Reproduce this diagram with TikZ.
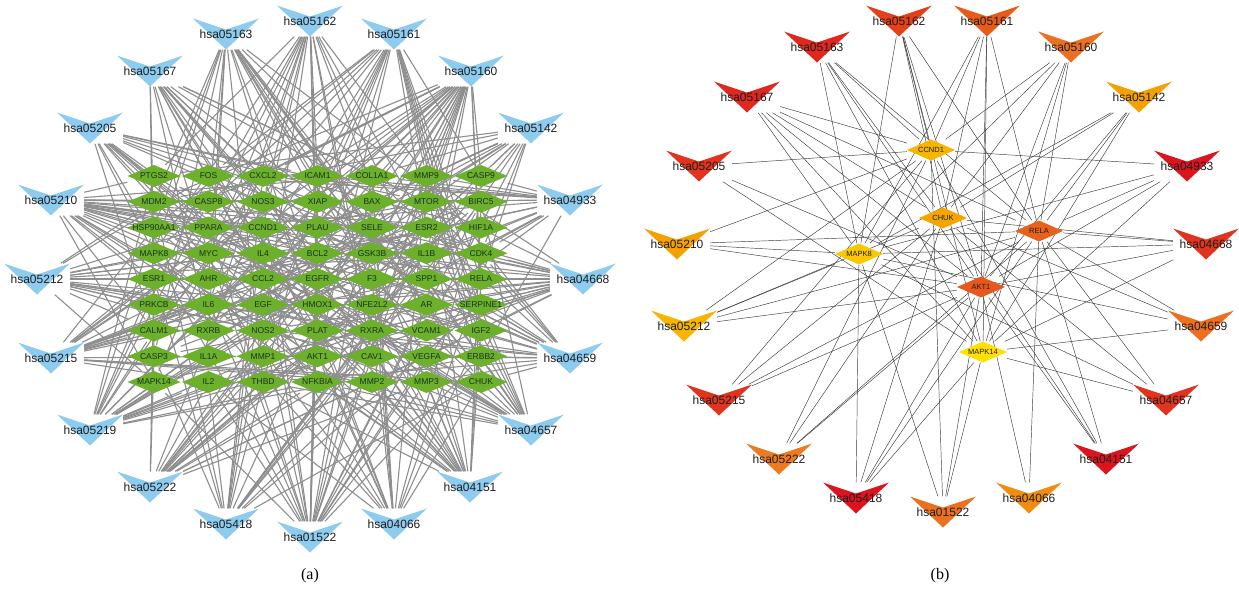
\documentclass[tikz,border=0pt]{standalone}
\usepackage{fontspec}
\setmainfont{Liberation Serif}
\newfontfamily\lsans{Liberation Sans}
\usetikzlibrary{backgrounds}
\definecolor{vblue}{HTML}{8DCBEF}
\definecolor{ggreen}{HTML}{6CB02C}
\definecolor{gtext}{HTML}{17331F}
\definecolor{ltext}{HTML}{1E1E1E}
\definecolor{aedgec}{HTML}{8E8E8E}
\definecolor{bedgec}{HTML}{3A3A3A}
\definecolor{cA}{HTML}{E4401A}
\definecolor{cB}{HTML}{E85A18}
\definecolor{cC}{HTML}{E0281E}
\definecolor{cD}{HTML}{EC7020}
\definecolor{cE}{HTML}{F4A000}
\definecolor{cF}{HTML}{DC1420}
\definecolor{cG}{HTML}{E0341E}
\definecolor{cH}{HTML}{F7B400}
\definecolor{cI}{HTML}{EC7A20}
\definecolor{cJ}{HTML}{F08C10}
\definecolor{gCCND}{HTML}{F7B500}
\definecolor{gCHUK}{HTML}{F5A500}
\definecolor{gRELA}{HTML}{E8621C}
\definecolor{gMAPKa}{HTML}{F9C800}
\definecolor{gAKT}{HTML}{E8581C}
\definecolor{gMAPKb}{HTML}{FFE000}
\tikzset{
  vcol/.store in=\vcol, vcol=vblue,
  vnode/.style={rectangle, inner sep=0pt, minimum width=66pt, minimum height=31pt,
    font=\lsans\fontsize{12}{12}\selectfont, text=ltext,
    path picture={\fill[\vcol] (path picture bounding box.north west) -- ([yshift=-11pt]path picture bounding box.north) -- (path picture bounding box.north east) -- (path picture bounding box.south) -- cycle;}},
  gnode/.style={rectangle, inner sep=0pt, minimum width=53pt, minimum height=22pt,
    font=\lsans\fontsize{8.5}{8.5}\selectfont, text=gtext,
    path picture={\fill[ggreen] (path picture bounding box.west) -- (path picture bounding box.north) -- (path picture bounding box.east) -- (path picture bounding box.south) -- cycle;}},
  bgnode/.style={rectangle, inner sep=0pt, minimum width=48pt, minimum height=21pt,
    font=\lsans\fontsize{7.5}{7.5}\selectfont, text=ltext,
    path picture={\fill[\vcol] (path picture bounding box.west) -- (path picture bounding box.north) -- (path picture bounding box.east) -- (path picture bounding box.south) -- cycle;}},
  aedge/.style={draw=aedgec, line width=1.1pt},
  bedge/.style={draw=bedgec, line width=0.45pt},
  caption/.style={font=\fontsize{16}{18}\selectfont, text=black}
}
\begin{document}
\begin{tikzpicture}[x=1pt,y=-1pt]
\useasboundingbox (0,0) rectangle (1239,590);
% ---------------- panel (a) genes
\foreach \g [count=\k from 0] in {PTGS2,FOS,CXCL2,ICAM1,COL1A1,MMP9,CASP9,
  MDM2,CASP8,NOS3,XIAP,BAX,MTOR,BIRC5,
  HSP90AA1,PPARA,CCND1,PLAU,SELE,ESR2,HIF1A,
  MAPK8,MYC,IL4,BCL2,GSK3B,IL1B,CDK4,
  ESR1,AHR,CCL2,EGFR,F3,SPP1,RELA,
  PRKCB,IL6,EGF,HMOX1,NFE2L2,AR,SERPINE1,
  CALM1,RXRB,NOS2,PLAT,RXRA,VCAM1,IGF2,
  CASP3,IL1A,MMP1,AKT1,CAV1,VEGFA,ERBB2,
  MAPK14,IL2,THBD,NFKBIA,MMP2,MMP3,CHUK}{
  \pgfmathtruncatemacro\cc{mod(\k,7)}
  \pgfmathtruncatemacro\rr{div(\k,7)}
  \node[gnode] (ga\k) at ({154+54.5*\cc},{176+25.75*\rr}) {\g};
}
% panel (a) pathways
\foreach \n/\x/\y [count=\p] in {05162/310/21,05161/394/34,05160/471/71,05142/531/128,
  04933/570/200,04668/583/279,04659/570/358,04657/531/430,04151/470/487,04066/394/524,
  01522/310/537,05418/226/524,05222/150/487,05219/90/430,05215/51/358,05212/37/279,
  05210/51/200,05205/90/128,05167/150/71,05163/226/34}{
  \node[vnode, vcol=vblue] (pa\p) at (\x,\y) {hsa\n};
}
\begin{pgfonlayer}{background}
\foreach \p in {1,...,20}{
  \foreach \k in {0,...,62}{
    \pgfmathtruncatemacro\e{mod(mod(\p*\k,97)*13+mod(\k*\k,97)*3+\p*29+\k*11,97)<33}
    \ifnum\e=1 \draw[aedge] (pa\p) -- (ga\k); \fi
  }
}
\end{pgfonlayer}
% ---------------- panel (b) genes
\node[bgnode, vcol=gCCND] (gbCCND1) at (931,150) {CCND1};
\node[bgnode, vcol=gCHUK] (gbCHUK) at (943,218) {CHUK};
\node[bgnode, vcol=gRELA] (gbRELA) at (1039,231) {RELA};
\node[bgnode, vcol=gMAPKa] (gbMAPK8) at (859,254) {MAPK8};
\node[bgnode, vcol=gAKT] (gbAKT1) at (981,287) {AKT1};
\node[bgnode, vcol=gMAPKb] (gbMAPK14) at (983,352) {MAPK14};
% panel (b) pathways
\foreach \n/\x/\y/\c in {05162/899/21/cA,05161/987/21/cB,05160/1071/47/cD,05142/1139/97/cE,
  04933/1187/166/cF,04668/1206/244/cG,04659/1201/326/cD,04657/1166/400/cG,04151/1106/459/cF,
  04066/1029/498/cJ,01522/943/512/cD,05418/856/498/cF,05222/779/459/cI,05215/719/400/cG,
  05212/684/326/cH,05210/677/244/cE,05205/699/166/cG,05167/747/97/cC,05163/817/47/cC}{
  \node[vnode, vcol=\c] (pb\n) at (\x,\y) {hsa\n};
}
\begin{pgfonlayer}{background}
\foreach \p/\gl in {
  05162/{CCND1,CHUK,RELA,MAPK8,AKT1,MAPK14},
  05161/{CCND1,CHUK,RELA,MAPK8,AKT1,MAPK14},
  05160/{CCND1,CHUK,RELA,MAPK8,AKT1,MAPK14},
  05142/{CHUK,RELA,MAPK8,AKT1,MAPK14},
  04933/{CCND1,RELA,MAPK8,AKT1,MAPK14},
  04668/{CHUK,RELA,MAPK8,AKT1,MAPK14},
  04659/{CHUK,RELA,MAPK8,MAPK14},
  04657/{CHUK,RELA,MAPK8,MAPK14},
  04151/{CCND1,CHUK,RELA,AKT1},
  04066/{RELA,AKT1},
  01522/{CCND1,MAPK8,AKT1,MAPK14},
  05418/{CHUK,RELA,MAPK8,AKT1,MAPK14},
  05222/{CCND1,CHUK,RELA,AKT1},
  05215/{CCND1,CHUK,RELA,AKT1},
  05212/{CCND1,CHUK,RELA,MAPK8,AKT1},
  05210/{CCND1,RELA,MAPK8,AKT1},
  05205/{CCND1,AKT1,MAPK14},
  05167/{CCND1,CHUK,RELA,MAPK8,AKT1,MAPK14},
  05163/{CCND1,CHUK,RELA,MAPK8,AKT1,MAPK14}}{
  \foreach \g in \gl { \draw[bedge] (pb\p) -- (gb\g); }
}
\end{pgfonlayer}
% captions
\node[caption] (capa) at (310,576) {(a)};
\node[caption] (capb) at (940,576) {(b)};
\end{tikzpicture}
\end{document}
